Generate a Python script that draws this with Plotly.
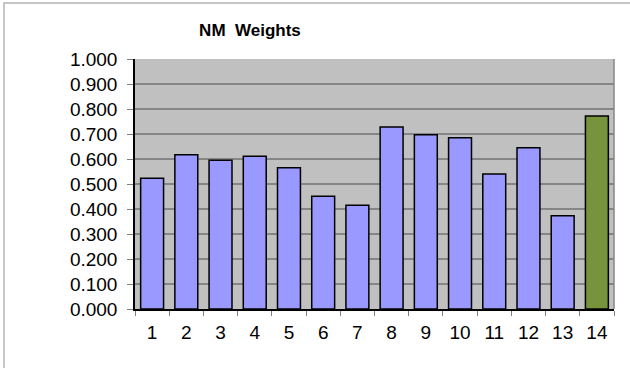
import plotly.graph_objects as go

# Weight per NM index
categories = [str(i) for i in range(1, 15)]
weights = [0.523, 0.617, 0.595, 0.611, 0.565, 0.451, 0.415,
           0.728, 0.697, 0.685, 0.540, 0.645, 0.373, 0.772]
y_ticks = [0.0, 0.1, 0.2, 0.3, 0.4, 0.5, 0.6, 0.7, 0.8, 0.9, 1.0]
y_tick_labels = [f"{v:.3f}" for v in y_ticks]

bar_colors = ["#9999ff"] * 13 + ["#77933c"]

fig = go.Figure(
    go.Bar(
        x=categories,
        y=weights,
        marker=dict(color=bar_colors, line=dict(color="#000000", width=1.5)),
        hoverinfo="x+y",
    )
)

font_family = "Liberation Sans, Arial, sans-serif"

fig.update_layout(
    width=630,
    height=368,
    margin=dict(l=135, r=16, t=59, b=59),
    paper_bgcolor="#ffffff",
    plot_bgcolor="#c0c0c0",
    bargap=0.33,
    showlegend=False,
    font=dict(family=font_family, size=19, color="#000000"),
    title=dict(
        text="<b>NM\u00a0\u00a0Weights</b>",
        font=dict(family=font_family, size=17, color="#000000"),
        xref="paper",
        x=0.24,
        xanchor="center",
        yref="container",
        y=1 - 30 / 368,
        yanchor="middle",
    ),
    xaxis=dict(
        type="category",
        tickson="boundaries",
        ticks="outside",
        ticklen=5,
        tickcolor="#808080",
        tickwidth=1,
        showgrid=False,
        showline=True,
        linecolor="#000000",
        linewidth=1.5,
        tickfont=dict(size=19),
        ticklabelstandoff=5,
        fixedrange=True,
    ),
    yaxis=dict(
        range=[0, 1.0],
        tickvals=y_ticks,
        ticktext=y_tick_labels,
        ticks="outside",
        ticklen=6,
        tickcolor="#808080",
        showgrid=True,
        gridcolor="#868686",
        gridwidth=1.5,
        zeroline=False,
        showline=True,
        linecolor="#000000",
        linewidth=1.5,
        tickfont=dict(size=19),
        ticklabelstandoff=6,
        fixedrange=True,
    ),
    shapes=[
        # outer chart frame
        dict(type="rect", xref="paper", yref="paper",
             x0=(4 - 135) / 479, x1=(640 - 135) / 479,
             y0=(309 - 380) / 250, y1=(309 - 3) / 250,
             line=dict(color="#b4b4b4", width=1.5), layer="below"),
        # plot area border on the right
        dict(type="line", xref="paper", yref="paper",
             x0=1, x1=1, y0=0, y1=1,
             line=dict(color="#868686", width=1.5)),
    ],
)

fig.write_html("out.html")
